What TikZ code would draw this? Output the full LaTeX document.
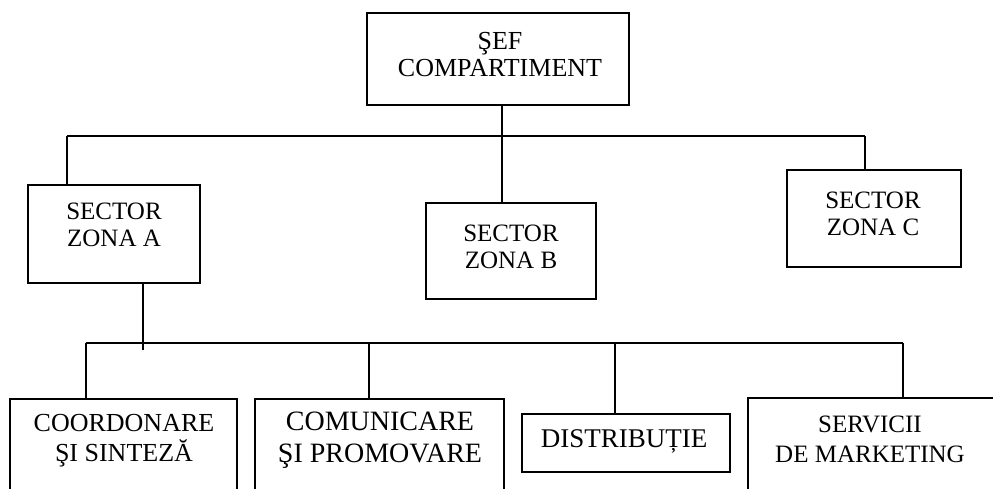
\documentclass[tikz,border=0pt]{standalone}
\usepackage{fontspec}
\setmainfont{Liberation Serif}
\newcommand{\fsz}[2]{\fontsize{#1}{#2}\selectfont}
\begin{document}
\begin{tikzpicture}[x=1pt,y=-1pt,
  box/.style={draw,line width=1.5pt,rectangle,inner sep=0pt},
  lbl/.style={align=center,inner sep=0pt,font=\fsz{25}{27}},
  link/.style={line width=1.5pt}]
\useasboundingbox (0,0) rectangle (993,488);
\clip (0,0) rectangle (993,488);

% level 0
\node[box,minimum width=262pt,minimum height=92pt] (sef) at (498,59) {};
\node[lbl,font=\fsz{26}{27}] (tsef) at (500,55) {ŞEF\\COMPARTIMENT};

% level 1
\node[box,minimum width=172pt,minimum height=98pt] (za) at (114,234) {};
\node[lbl] (tza) at (114,225) {SECTOR\\ZONA A};
\node[box,minimum width=170pt,minimum height=96pt] (zb) at (511,251) {};
\node[lbl] (tzb) at (511,247) {SECTOR\\ZONA B};
\node[box,minimum width=174pt,minimum height=97pt] (zc) at (874,218.5) {};
\node[lbl] (tzc) at (873,213.5) {SECTOR\\ZONA C};

% level 2 (boxes run past the lower edge)
\node[box,minimum width=227pt,minimum height=130pt] (b1) at (123.5,464) {};
\node[lbl,font=\fsz{26}{30}] (tb1) at (124,440.5) {COORDONARE\\ŞI SINTEZĂ};
\node[box,minimum width=249pt,minimum height=130pt] (b2) at (379.5,464) {};
\node[lbl,font=\fsz{28}{32}] (tb2) at (380,440) {COMUNICARE\\ŞI PROMOVARE};
\node[box,minimum width=208pt,minimum height=58pt] (b3) at (626,443) {};
\node[lbl,font=\fsz{27}{30}] (tb3) at (624,441) {DISTRIBUȚIE};
\node[box,minimum width=270pt,minimum height=130pt] (b4) at (883,463) {};
\node[lbl,font=\fsz{25}{30}] (tb4) at (870,439) {SERVICII\\DE MARKETING};

% junction points
\coordinate (h1l) at (67,136);
\coordinate (h1r) at (865,136);
\coordinate (h2l) at (86,343);
\coordinate (h2r) at (903,343);
\coordinate (a2) at (143,350);

% connectors, level 0 to level 1
\draw[link] (sef.south -| 502,0) -- (zb.north -| 502,0);
\draw[link] (h1l) -- (h1r);
\draw[link] (h1l) -- (za.north -| h1l);
\draw[link] (h1r) -- (zc.north -| h1r);

% connectors, level 1 to level 2
\draw[link] (za.south -| a2) -- (a2);
\draw[link] (h2l) -- (h2r);
\draw[link] (h2l) -- (b1.north -| h2l);
\draw[link] (369,343) -- (b2.north -| 369,0);
\draw[link] (615,343) -- (b3.north -| 615,0);
\draw[link] (h2r) -- (b4.north -| h2r);
\end{tikzpicture}
\end{document}
